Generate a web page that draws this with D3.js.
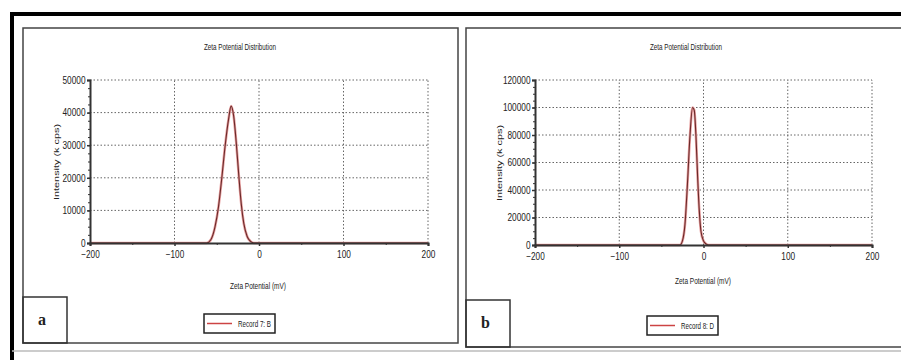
<!DOCTYPE html>
<html>
<head>
<meta charset="utf-8">
<script src="https://cdn.jsdelivr.net/npm/d3@7"></script>
<style>
  body { margin: 0; background: #fff; }
  text { font-family: "Liberation Sans", Arial, sans-serif; fill: #222; }
</style>
</head>
<body>
<div id="chart"></div>
<script>
// Panel a
const zetaA = [-200, -62, -57, -52, -48, -44, -40, -36, -33, -30, -27, -24, -21, -18, -14, -10, -6, 200];
const countsA = [0, 0, 1000, 5000, 11000, 20000, 30000, 38000, 42000, 39000, 31000, 21000, 12000, 6000, 2000, 500, 0, 0];
const yTicksA = [0, 10000, 20000, 30000, 40000, 50000];

// Panel b
const zetaB = [-200, -28, -25, -22, -19, -16, -13, -11, -9, -7, -5, -3, 0, 3, 6, 200];
const countsB = [0, 0, 3000, 15000, 45000, 80000, 100000, 98000, 80000, 50000, 25000, 10000, 3000, 800, 0, 0];
const yTicksB = [0, 20000, 40000, 60000, 80000, 100000, 120000];

const xTicks = [-200, -100, 0, 100, 200];
const xMinor = [-150, -50, 50, 150];

const width = 901, height = 360;
const svg = d3.select("#chart").append("svg")
    .attr("width", width)
    .attr("height", height);

// outer heavy frame
svg.append("line").attr("x1", 10).attr("x2", 901).attr("y1", 14).attr("y2", 14)
    .attr("stroke", "#000").attr("stroke-width", 4);
svg.append("line").attr("x1", 12).attr("x2", 12).attr("y1", 12).attr("y2", 360)
    .attr("stroke", "#000").attr("stroke-width", 4);
svg.append("line").attr("x1", 12).attr("x2", 901).attr("y1", 351).attr("y2", 351)
    .attr("stroke", "#bbb").attr("stroke-width", 1.5);

function panel(cfg) {
    const g = svg.append("g");

    // panel box
    g.append("rect")
        .attr("x", cfg.box[0]).attr("y", cfg.box[1])
        .attr("width", cfg.box[2]).attr("height", cfg.box[3])
        .attr("fill", "none").attr("stroke", "#444").attr("stroke-width", 1.5);

    const x = d3.scaleLinear().domain([-200, 200]).range(cfg.xr);
    const y = d3.scaleLinear().domain([0, cfg.ymax]).range(cfg.yr);

    // title
    g.append("text")
        .attr("x", cfg.titleX).attr("y", 50)
        .attr("text-anchor", "middle")
        .attr("font-size", 9)
        .attr("textLength", 72).attr("lengthAdjust", "spacingAndGlyphs")
        .text("Zeta Potential Distribution");

    // grid
    g.selectAll(".hgrid").data(cfg.yTicks.slice(1)).enter().append("line")
        .attr("x1", cfg.xr[0]).attr("x2", cfg.xr[1])
        .attr("y1", d => y(d)).attr("y2", d => y(d))
        .attr("stroke", "#666").attr("stroke-width", 1)
        .attr("stroke-dasharray", "1.5,2");
    g.selectAll(".vgrid").data(xTicks.slice(1)).enter().append("line")
        .attr("x1", d => x(d)).attr("x2", d => x(d))
        .attr("y1", cfg.yr[0]).attr("y2", cfg.yr[1])
        .attr("stroke", "#666").attr("stroke-width", 1)
        .attr("stroke-dasharray", "1.5,2");

    // curve
    const line = d3.line().x((d, i) => x(cfg.zeta[i])).y(d => y(d)).curve(d3.curveMonotoneX);
    g.append("path")
        .datum(cfg.counts)
        .attr("d", line)
        .attr("fill", "none")
        .attr("stroke", "#e8a0a0").attr("stroke-width", 2.6);
    g.append("path")
        .datum(cfg.counts)
        .attr("d", line)
        .attr("fill", "none")
        .attr("stroke", "#6a2a2a").attr("stroke-width", 1.1);

    // axes
    const xAxis = g.append("g")
        .attr("transform", `translate(0,${cfg.yr[0]})`)
        .call(d3.axisBottom(x).tickValues(xTicks).tickSize(3).tickFormat(d3.format("d")));
    g.append("g")
        .attr("transform", `translate(0,${cfg.yr[0]})`)
        .call(d3.axisBottom(x).tickValues(xMinor).tickSize(2).tickFormat(""))
        .call(a => a.select(".domain").remove());
    const yAxis = g.append("g")
        .attr("transform", `translate(${cfg.xr[0]},0)`)
        .call(d3.axisLeft(y).tickValues(cfg.yTicks).tickSize(3).tickFormat(d3.format("d")));
    const step = cfg.yTicks[1] / 4;
    g.append("g")
        .attr("transform", `translate(${cfg.xr[0]},0)`)
        .call(d3.axisLeft(y).tickValues(d3.range(0, cfg.ymax, step)).tickSize(2).tickFormat(""))
        .call(a => a.select(".domain").remove());

    [xAxis, yAxis].forEach(a => {
        a.select(".domain").attr("stroke", "#333").attr("stroke-width", 2);
        a.selectAll(".tick line").attr("stroke", "#333").attr("stroke-width", 1.5);
        a.selectAll(".tick text").attr("font-size", 10).attr("fill", "#111")
            .style("font-family", "'Liberation Sans', Arial, sans-serif")
            .attr("textLength", function () { return this.textContent.length * 4.6; })
            .attr("lengthAdjust", "spacingAndGlyphs");
    });
    g.selectAll(".tick line").attr("stroke", "#333");
    xAxis.selectAll(".tick text").attr("dy", "0.85em");
    yAxis.selectAll(".tick text").attr("dx", "0.15em");

    // axis labels
    g.append("text")
        .attr("x", cfg.xLabelX).attr("y", cfg.xLabelY)
        .attr("text-anchor", "middle").attr("font-size", 9)
        .attr("textLength", 56).attr("lengthAdjust", "spacingAndGlyphs")
        .text("Zeta Potential (mV)");
    g.append("text")
        .attr("transform", `translate(${cfg.yLabelX},${cfg.yLabelY}) rotate(-90)`)
        .attr("text-anchor", "middle").attr("font-size", 7).attr("fill", "#444")
        .attr("textLength", 76).attr("lengthAdjust", "spacingAndGlyphs")
        .text("Intensity (k cps)");

    // legend
    const lg = g.append("g").attr("transform", `translate(${cfg.legend[0]},${cfg.legend[1]})`);
    lg.append("rect").attr("width", 71).attr("height", 19)
        .attr("fill", "#fff").attr("stroke", "#222").attr("stroke-width", 1.5);
    lg.append("line").attr("x1", 3).attr("x2", 28).attr("y1", 9.5).attr("y2", 9.5)
        .attr("stroke", "#c44").attr("stroke-width", 1.5);
    lg.append("text").attr("x", 34).attr("y", 13).attr("font-size", 9)
        .attr("textLength", 33).attr("lengthAdjust", "spacingAndGlyphs")
        .text(cfg.record);

    // panel letter
    g.append("rect")
        .attr("x", cfg.letterBox[0]).attr("y", cfg.letterBox[1])
        .attr("width", cfg.letterBox[2]).attr("height", cfg.letterBox[3])
        .attr("fill", "none").attr("stroke", "#333").attr("stroke-width", 1.5);
    g.append("text")
        .attr("x", cfg.letterBox[0] + 15).attr("y", cfg.letterBox[1] + 28)
        .attr("font-size", 16).attr("font-weight", "bold")
        .style("font-family", "'Liberation Serif', 'Times New Roman', serif")
        .text(cfg.letter);
}

panel({
    box: [23, 28, 435, 315],
    xr: [90, 428], yr: [243, 80], ymax: 50000,
    zeta: zetaA, counts: countsA, yTicks: yTicksA,
    titleX: 240, xLabelX: 258, xLabelY: 289, yLabelX: 59, yLabelY: 162,
    legend: [204, 314], record: "Record 7: B",
    letterBox: [23, 297, 44, 46], letter: "a"
});

panel({
    box: [466, 28, 440, 319],
    xr: [535, 872], yr: [245, 80], ymax: 120000,
    zeta: zetaB, counts: countsB, yTicks: yTicksB,
    titleX: 686, xLabelX: 703, xLabelY: 284, yLabelX: 502, yLabelY: 163,
    legend: [647, 316], record: "Record 8: D",
    letterBox: [466, 300, 44, 47], letter: "b"
});
</script>
</body>
</html>
